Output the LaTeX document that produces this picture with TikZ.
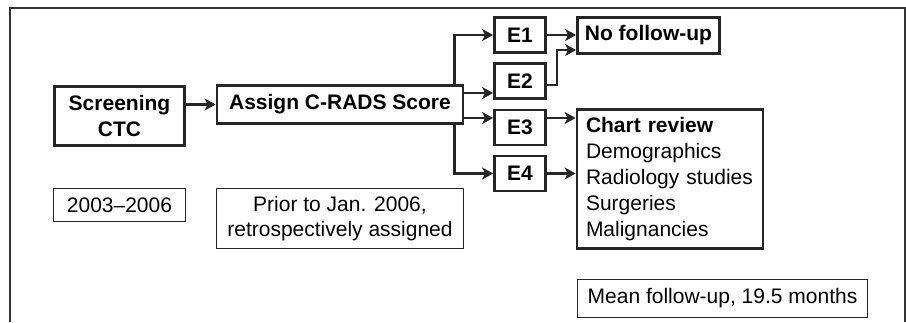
\documentclass[tikz,border=0pt]{standalone}
\usepackage{fontspec}
\setmainfont{Liberation Sans}
\usepackage{tikz}
\usetikzlibrary{arrows.meta}

\begin{document}
\begin{tikzpicture}[
    x=1pt, y=-1pt,
    font=\fontsize{21}{25.5}\selectfont,
    stage/.style={
        % The shape:
        rectangle,
        % The border
        line width=2.8pt,
        draw=black!85,
        % The filling
        fill=white,
        % Font
        font=\fontsize{21}{25.5}\selectfont\bfseries,
        inner sep=0pt
    },
    caption/.style={
        % The shape:
        rectangle,
        % The border
        line width=1.2pt,
        draw=black!85,
        inner sep=0pt
    },
    link/.style={
        line width=2.6pt,
        draw=black!85,
        -{Stealth[length=11pt,width=12pt,inset=3pt]}
    }]

    \useasboundingbox (0,0) rectangle (906,322);

    % open frame
    \draw[line width=1.3pt, black!80] (10,322) |- (905,8) -- (905,322);

    \node [stage, minimum width=130pt, minimum height=59pt, align=center]
        (scr) at (119.5,116) {Screening\\CTC};
    \node [stage, minimum width=246pt, minimum height=38pt]
        (asg) at (340,104.5) {Assign C-RADS Score};

    \foreach \y/\n in {35/1, 81/2, 127.5/3, 173.5/4}
    {
        \node [stage, minimum width=51pt, minimum height=35pt] (e\n) at (520,\y) {E\n};
    }

    \node [stage, minimum width=142pt, minimum height=36pt]
        (nf) at (648.5,35.5) {No follow-up};
    \node [stage, font=\fontsize{21}{26}\selectfont, minimum height=139pt,
           text width=168pt, inner xsep=9pt, align=left]
        (cr) at (670,179) {\textbf{Chart review}\\Demographics\\Radiology studies\\Surgeries\\Malignancies};

    \node [caption, minimum width=132pt, minimum height=33pt] (yrs) at (119.5,205) {2003--2006};
    \node [caption, minimum width=247pt, minimum height=60pt, align=center]
        (pri) at (340,218.5) {Prior to Jan. 2006,\\retrospectively assigned};
    \node [caption, minimum width=290pt, minimum height=38pt] (mfu) at (722.5,298.5) {Mean follow-up, 19.5 months};

    % connectors
    \draw [link] (scr.east |- asg.west) -- (asg.west);
    \draw [link] ([xshift=-10pt]asg.north east) |- (e1.west);
    \draw [link] ([xshift=-10pt]asg.south east) |- (e4.west);
    \coordinate (a2) at ([yshift=11.5pt]asg.east);
    \coordinate (a3) at ([yshift=-13.5pt]asg.east);
    \draw [link] (a2) -- (a2 -| e2.west);
    \draw [link] (a3) -- (a3 -| e3.west);

    \draw [link] (e1.east) -- (e1.east -| nf.west);
    \coordinate (n2) at ([yshift=-14.5pt]nf.west);
    \draw [link] ([yshift=-4pt]e2.east) -| ++(10,0) |- (n2);
    \coordinate (c3) at ([yshift=9.5pt]e3.east);
    \draw [link] (c3) -- (c3 -| cr.west);
    \draw [link] (e4.east) -- (e4.east -| cr.west);
\end{tikzpicture}
\end{document}
